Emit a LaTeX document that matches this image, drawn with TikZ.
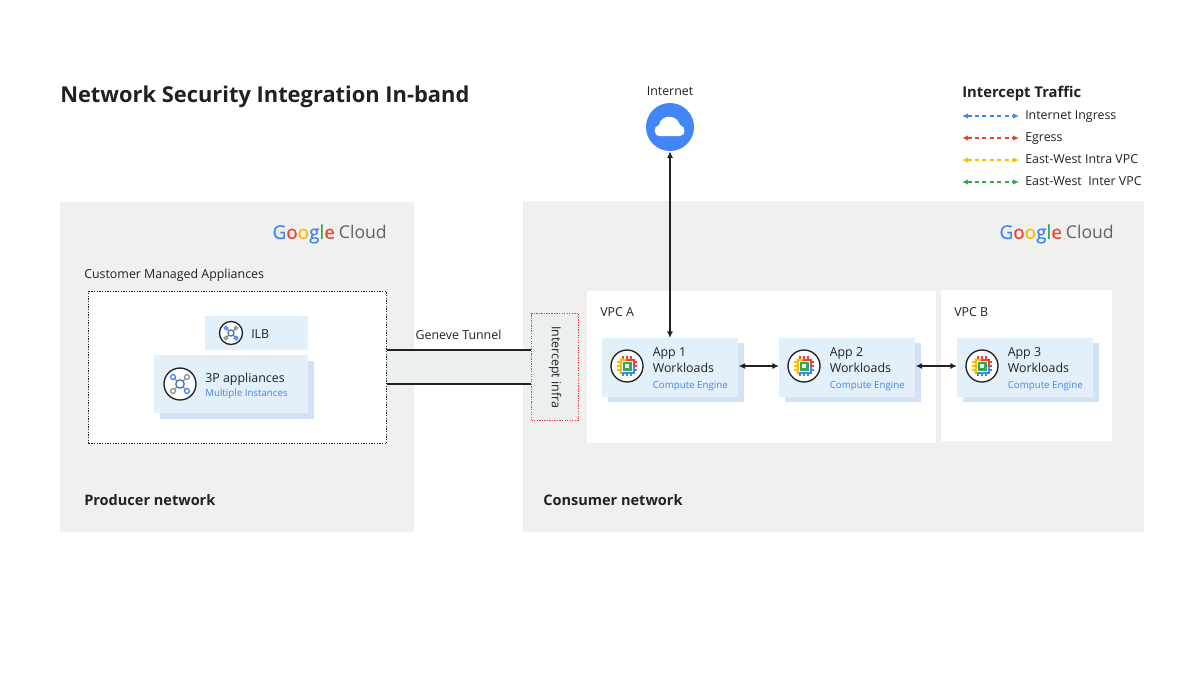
\documentclass[tikz,border=0pt]{standalone}
\usepackage{fontspec}
\setmainfont{Open Sans}
\newfontfamily\logofont[FakeBold=0.6]{Open Sans}
\usetikzlibrary{arrows.meta,positioning}
\definecolor{panelgray}{HTML}{F0F1EF}
\definecolor{tunnelgray}{HTML}{ECEFF0}
\definecolor{cardblue}{HTML}{E3F0FA}
\definecolor{cardback}{HTML}{D2E3F8}
\definecolor{gblue}{HTML}{4285F4}
\definecolor{gred}{HTML}{EA4335}
\definecolor{gyellow}{HTML}{FBBC04}
\definecolor{ggreen}{HTML}{34A853}
\definecolor{ggray}{HTML}{5F6368}
\definecolor{inkdark}{HTML}{202124}
\tikzset{
  panel/.style={fill=panelgray,draw=none,inner sep=0pt,anchor=north west},
  whitebox/.style={fill=white,draw=none,inner sep=0pt,anchor=north west},
  card/.style={fill=cardblue,draw=none,inner sep=0pt,anchor=north west},
  cardshadow/.style={fill=cardback,draw=none,inner sep=0pt,anchor=north west},
  txt/.style={font=\fontsize{9.3}{11}\selectfont,text=inkdark,inner sep=0pt},
  bluetxt/.style={font=\fontsize{7.3}{9}\selectfont,text=gblue,inner sep=0pt},
  boldtxt/.style={font=\fontsize{10.9}{12}\selectfont\bfseries,text=inkdark,inner sep=0pt},
  conn/.style={draw=inkdark,line width=1pt,{Latex[length=5pt,width=4.6pt]}-{Latex[length=5pt,width=4.6pt]}},
  tunnel/.style={draw=inkdark,line width=1.1pt},
  legendline/.style={line width=0.9pt,dash pattern=on 3.2pt off 2.4pt,{Latex[length=4.4pt,width=4pt]}-{Latex[length=4.4pt,width=4pt]}},
  ring/.style={circle,draw=inkdark,fill=white,line width=1pt,inner sep=0pt},
  chip/.pic={
    \foreach \t in {-4,0,4} {
      \draw[gred,line width=1.2pt] (\t,-6) -- (\t,-10);
      \draw[gblue,line width=1.2pt] (\t,6) -- (\t,10);
      \draw[gyellow,line width=1.2pt] (-6,\t) -- (-10,\t);
      \draw[\ifnum\t>0 gblue\else gred\fi,line width=1.2pt] (6,\t) -- (10,\t);
    }
    \fill[gred] (-7.5,-7.5) rectangle (7.5,0);
    \fill[gblue] (-7.5,0) rectangle (7.5,7.5);
    \fill[gyellow] (-7.5,-7.5) -- (0,-7.5) -- (-5,0) -- (-5,7.5) -- (-7.5,7.5) -- cycle;
    \fill[white] (-5.5,-5.5) rectangle (5.5,5.5);
    \fill[ggreen] (-4.5,-4.5) rectangle (4.5,4.5);
    \fill[cardblue] (-2.4,-2.4) rectangle (2.4,2.4);
  },
  hub/.pic={
    \draw[ggray!70,line width=1pt] (-7,-7) -- (7,7) (7,-7) -- (-7,7);
    \draw[gblue,line width=1pt,fill=white] (-7,-7) circle (2.4) (7,7) circle (2.4);
    \draw[ggray!70,line width=1pt,fill=white] (7,-7) circle (2.4) (-7,7) circle (2.4);
    \draw[gblue!60!ggray,line width=1pt,fill=white] (0,0) circle (4.2);
  }
}
\newcommand{\gcloud}{{\fontsize{14.2}{15}\logofont\textcolor{gblue}{G}\textcolor{gred}{o}\textcolor{gyellow}{o}\textcolor{gblue}{g}\textcolor{ggreen}{l}\textcolor{gred}{e}}\hspace{3pt}{\fontsize{13.2}{15}\selectfont\textcolor{ggray}{Cloud}}}
\begin{document}
\begin{tikzpicture}[x=0.75pt,y=-0.75pt]
\useasboundingbox (0,0) rectangle (1200,675);

% panels
\node[panel,minimum width=354*0.75pt,minimum height=330*0.75pt] (producer) at (60,202) {};
\node[panel,minimum width=621*0.75pt,minimum height=331*0.75pt] (consumer) at (523,201) {};
\node[whitebox,minimum width=349*0.75pt,minimum height=152*0.75pt] (vpca) at (587,291) {};
\node[whitebox,minimum width=171*0.75pt,minimum height=151*0.75pt] (vpcb) at (941,290) {};
\node[whitebox,draw=inkdark,dash pattern=on 1pt off 1pt,line width=1pt,minimum width=298*0.75pt,minimum height=152*0.75pt] (managed) at (88,291) {};

% texts
\node[font=\fontsize{16.4}{20}\selectfont\bfseries,text=inkdark,inner sep=0pt,anchor=west] (title) at (60,97) {Network Security Integration In-band};
\node[txt,anchor=center] (internetlabel) at (670,91.5) {Internet};
\node[font=\fontsize{11.1}{12}\selectfont\bfseries,text=inkdark,inner sep=0pt,anchor=west] (legendtitle) at (962,94) {Intercept Traffic};
\node[anchor=east,inner sep=0pt] (gcleft) at (387,234) {\gcloud};
\node[anchor=east,inner sep=0pt] (gcright) at (1114,234) {\gcloud};
\node[txt,anchor=west] (managedlabel) at (84,275) {Customer Managed Appliances};
\node[boldtxt,anchor=west] (producerlabel) at (84,500.5) {Producer network};
\node[boldtxt,anchor=west] (consumerlabel) at (543,500.5) {Consumer network};
\node[txt,anchor=west] (vpcalabel) at (600,312) {VPC A};
\node[txt,anchor=west] (vpcblabel) at (954,312) {VPC B};
\node[txt,anchor=center] (genevelabel) at (458.5,335) {Geneve Tunnel};

% internet
\node[circle,fill=gblue,minimum size=48*0.75pt,inner sep=0pt] (internet) at (670,127) {};
\fill[white] (660,136) .. controls (653,136) and (653,126) .. (659,125) .. controls (661,114) and (677,114) .. (680,125) .. controls (686,126) and (686,136) .. (680,136) -- cycle;

% intercept
\node[fill=tunnelgray,draw=none,minimum width=144*0.75pt,minimum height=34*0.75pt,inner sep=0pt,anchor=north west] (tunnelfill) at (387,350) {};
\node[draw=gred,dash pattern=on 1pt off 0.9pt,fill=tunnelgray,line width=0.9pt,minimum width=47*0.75pt,minimum height=107*0.75pt,inner sep=0pt,anchor=north west] (intercept) at (531,313) {};
\node[txt,rotate=-90,anchor=center] (interceptlabel) at (intercept.center) {Intercept infra};
\coordinate (tunnelaleft) at (387,350);
\coordinate (tunnelaright) at (531,350);
\coordinate (tunnelbleft) at (387,384);
\coordinate (tunnelbright) at (531,384);
\draw[tunnel] (tunnelaleft) -- (tunnelaright);
\draw[tunnel] (tunnelbleft) -- (tunnelbright);

% appliances
\node[card,minimum width=103*0.75pt,minimum height=34*0.75pt] (ilb) at (205,316) {};
\node[ring,minimum size=23*0.75pt] (ilbring) at (231,333) {};
\pic[scale=0.72] at (ilbring) {hub};
\node[txt,anchor=west] (ilblabel) at (251,334) {ILB};
\node[cardshadow,minimum width=154*0.75pt,minimum height=58*0.75pt] (appshadow) at (160,361) {};
\node[card,minimum width=154*0.75pt,minimum height=58*0.75pt] (appliances) at (154,355) {};
\node[ring,minimum size=32*0.75pt] (appring) at (180,384) {};
\pic at (appring) {hub};
\node[txt,anchor=west] (applabel) at (205,379.5) {3P appliances};
\node[bluetxt,anchor=west] (appsub) at (205,394) {Multiple Instances};

% workloads
\foreach \name/\cx/\lab in {appone/602/App 1,apptwo/779/App 2,appthree/957/App 3} {
  \node[cardshadow,minimum width=136*0.75pt,minimum height=59*0.75pt] (\name-shadow) at (\cx+6,343) {};
  \node[card,minimum width=136*0.75pt,minimum height=59*0.75pt] (\name) at (\cx,338) {};
  \node[ring,minimum size=32*0.75pt] (\name-ring) at (\cx+25,366) {};
  \pic at (\name-ring) {chip};
  \node[txt,anchor=base west] (\name-label) at (\cx+50.5,356.5) {\lab};
  \node[txt,anchor=base west] (\name-work) at (\cx+50.5,372.5) {Workloads};
  \node[bluetxt,anchor=base west] (\name-sub) at (\cx+50.5,388) {Compute Engine};
}

% connectors
\path[conn] (internet.south) -- (appone.north -| internet.south);
\path[conn] (appone.east |- appone-ring) -- (apptwo.west |- apptwo-ring);
\path[conn] (apptwo.east |- apptwo-ring) -- (appthree.west |- appthree-ring);

% legend
\foreach \name/\y/\col/\lab in {ingress/116/gblue/Internet Ingress,egress/138/gred/Egress,intra/160/gyellow/East-West Intra VPC,inter/182/ggreen/East-West\ \ Inter VPC} {
  \coordinate (\name-a) at (962,\y);
  \coordinate (\name-b) at (1019,\y);
  \path[legendline,draw=\col,\col] (\name-a) -- (\name-b);
  \node[txt,anchor=base west] (\name-label) at (1025,\y+3.5) {\lab};
}
\end{tikzpicture}
\end{document}
